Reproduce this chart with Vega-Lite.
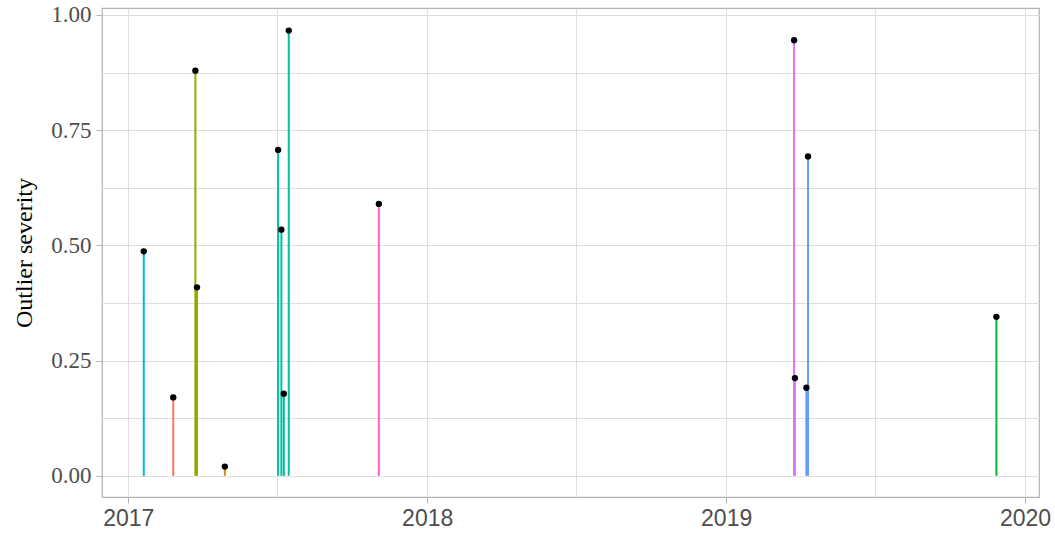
{
  "$schema": "https://vega.github.io/schema/vega-lite/v6.json",
  "autosize": "none",
  "width": 937,
  "height": 489,
  "padding": {"left": 102, "top": 8, "right": 16, "bottom": 38},
  "background": "white",
  "config": {
    "view": {"stroke": "#b3b3b3", "strokeWidth": 1.2},
    "axis": {"domain": false}
  },
  "data": {
    "values": [
      {"date": "2017-01-20", "severity": 0.487, "group": "g6"},
      {"date": "2017-02-25", "severity": 0.170, "group": "g1"},
      {"date": "2017-03-24", "severity": 0.879, "group": "g3"},
      {"date": "2017-03-26", "severity": 0.409, "group": "g3"},
      {"date": "2017-04-29", "severity": 0.020, "group": "g2"},
      {"date": "2017-07-03", "severity": 0.707, "group": "g5"},
      {"date": "2017-07-07", "severity": 0.534, "group": "g5"},
      {"date": "2017-07-10", "severity": 0.178, "group": "g5"},
      {"date": "2017-07-16", "severity": 0.966, "group": "g5"},
      {"date": "2017-11-03", "severity": 0.590, "group": "g9"},
      {"date": "2019-03-25", "severity": 0.945, "group": "g8"},
      {"date": "2019-03-26", "severity": 0.212, "group": "g8"},
      {"date": "2019-04-09", "severity": 0.191, "group": "g7"},
      {"date": "2019-04-11", "severity": 0.693, "group": "g7"},
      {"date": "2019-11-27", "severity": 0.345, "group": "g4"}
    ]
  },
  "encoding": {
    "x": {
      "field": "date",
      "type": "temporal",
      "scale": {
        "type": "utc",
        "domain": [
          {"year": 2016, "month": 11, "date": 30, "utc": true},
          {"year": 2020, "month": 1, "date": 18, "utc": true}
        ]
      },
      "axis": {
        "title": null,
        "values": [
          {"year": 2017, "month": 1, "date": 1, "utc": true},
          {"year": 2017, "month": 7, "date": 2, "utc": true},
          {"year": 2018, "month": 1, "date": 1, "utc": true},
          {"year": 2018, "month": 7, "date": 2, "utc": true},
          {"year": 2019, "month": 1, "date": 1, "utc": true},
          {"year": 2019, "month": 7, "date": 2, "utc": true},
          {"year": 2020, "month": 1, "date": 1, "utc": true}
        ],
        "labelExpr": "utcmonth(datum.value) === 0 ? utcFormat(datum.value, '%Y') : ''",
        "labelFont": "Liberation Sans",
        "labelFontSize": 23,
        "labelColor": "#4d4d4d",
        "labelPadding": 4,
        "labelFlush": false,
        "labelOverlap": false,
        "tickColor": "#b3b3b3",
        "tickSize": 6,
        "tickOpacity": {"condition": {"test": "utcmonth(datum.value) !== 0", "value": 0}, "value": 1},
        "gridColor": "#dedede",
        "gridWidth": 1
      }
    },
    "y": {
      "field": "severity",
      "type": "quantitative",
      "scale": {"domain": [-0.046, 1.015], "nice": false, "zero": false},
      "axis": {
        "title": "Outlier severity",
        "titleFont": "Liberation Serif",
        "titleFontSize": 24,
        "titleFontWeight": "normal",
        "titleColor": "#000000",
        "titlePadding": 14,
        "values": [0, 0.125, 0.25, 0.375, 0.5, 0.625, 0.75, 0.875, 1],
        "labelExpr": "datum.value % 0.25 === 0 ? format(datum.value, '.2f') : ''",
        "labelFont": "Liberation Serif",
        "labelFontSize": 23,
        "labelColor": "#4d4d4d",
        "labelPadding": 5,
        "labelOverlap": false,
        "tickColor": "#b3b3b3",
        "tickSize": 6,
        "tickOpacity": {"condition": {"test": "datum.value % 0.25 !== 0", "value": 0}, "value": 1},
        "gridColor": "#dedede",
        "gridWidth": 1
      }
    }
  },
  "layer": [
    {
      "mark": {"type": "rule", "strokeWidth": 2},
      "encoding": {
        "y2": {"datum": 0},
        "color": {
          "field": "group",
          "type": "nominal",
          "legend": null,
          "scale": {
            "domain": ["g1", "g2", "g3", "g4", "g5", "g6", "g7", "g8", "g9"],
            "range": ["#F8766D", "#D39200", "#93AA00", "#00BA38", "#00C19F", "#00B9E3", "#619CFF", "#DB72FB", "#FF61C3"]
          }
        }
      }
    },
    {
      "mark": {"type": "circle", "color": "#000000", "opacity": 1, "size": 40},
      "encoding": {}
    }
  ]
}
